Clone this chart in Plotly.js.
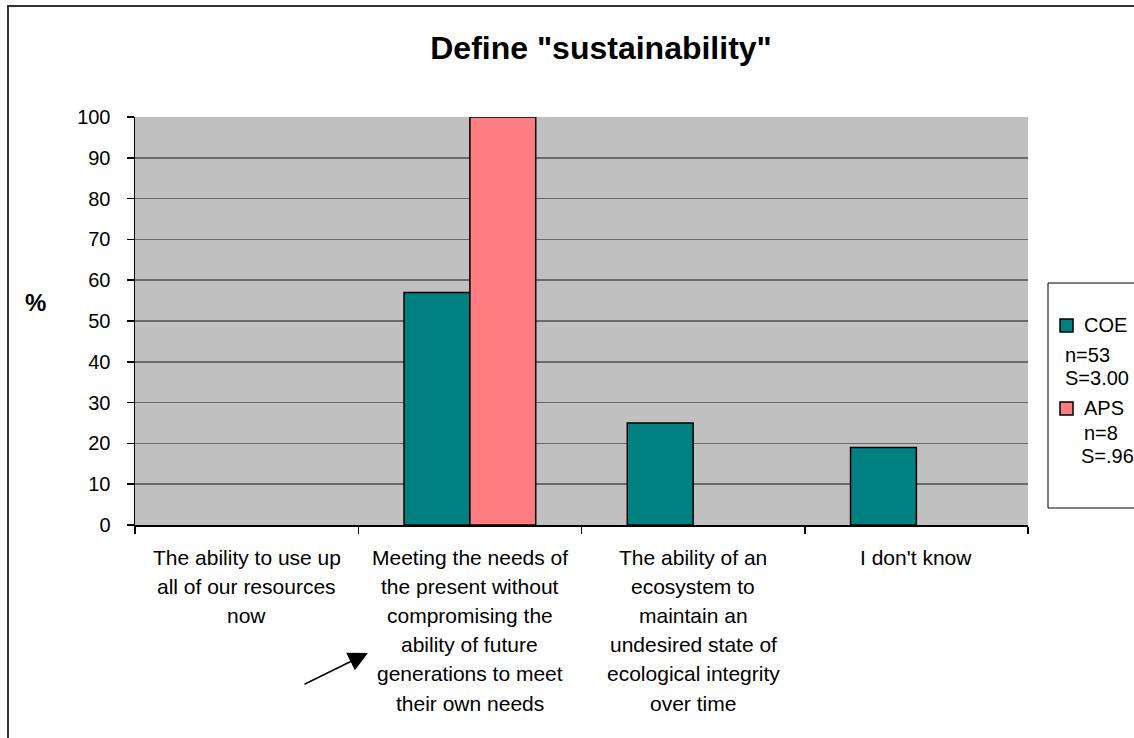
<!DOCTYPE html>
<html>
<head>
<meta charset="utf-8">
<script src="https://cdn.plot.ly/plotly-3.0.1.min.js"></script>
<style>
  html, body { margin: 0; padding: 0; background: #fff; }
  #chart { width: 1134px; height: 738px; }
</style>
</head>
<body>
<div id="chart"></div>
<script>
// ---- data ----
const categories = [
  "The ability to use up all of our resources now",
  "Meeting the needs of the present without compromising the ability of future generations to meet their own needs",
  "The ability of an ecosystem to maintain an undesired state of ecological integrity over time",
  "I don't know"
];
const categoryLines = [
  ["The ability to use up", "all of our resources", "now"],
  ["Meeting the needs of", "the present without", "compromising the", "ability of future", "generations to meet", "their own needs"],
  ["The ability of an", "ecosystem to", "maintain an", "undesired state of", "ecological integrity", "over time"],
  ["I don't know"]
];
const seriesNames = ["COE", "APS"];
const seriesN = ["n=53", "n=8"];
const seriesS = ["S=3.00", "S=.96"];
const coeValues = [0, 57, 25, 19];
const apsValues = [0, 100, 0, 0];
const yTicks = [0, 10, 20, 30, 40, 50, 60, 70, 80, 90, 100];
const titleText = 'Define "sustainability"';
const yTitle = "%";

// ---- layout helpers ----
const W = 1134, H = 738;
const M = { l: 135, r: 106, t: 117, b: 213 };
const PW = W - M.l - M.r, PH = H - M.t - M.b;
const px = x => (x - M.l) / PW;
const py = y => (H - M.b - y) / PH;

const colors = ["#008080", "#FF7C80"];
const font = "Arial, 'Liberation Sans', sans-serif";

// zero-valued bars are not drawn (as in the original chart)
const traces = [coeValues, apsValues].map((vals, i) => ({
  type: "bar",
  name: seriesNames[i],
  x: categories,
  y: vals.map(v => (v === 0 ? null : v)),
  marker: { color: colors[i], line: { color: "#000", width: 1.5 } },
  hoverinfo: "y"
}));

const annotations = [];
categoryLines.forEach((lines, ci) => {
  lines.forEach((ln, li) => {
    annotations.push({
      xref: "x", yref: "paper", x: categories[ci], y: py(557 + 29.2 * li),
      text: ln, showarrow: false, xanchor: "center", yanchor: "middle",
      font: { family: font, size: 21, color: "#000" }
    });
  });
});
annotations.push({
  xref: "paper", yref: "paper", x: px(35), y: py(302), text: "<b>" + yTitle + "</b>",
  showarrow: false, xanchor: "center", yanchor: "middle",
  font: { family: font, size: 24, color: "#000" }
});
// arrow
annotations.push({
  xref: "paper", yref: "paper", x: px(368), y: py(653), text: "",
  showarrow: true, arrowhead: 2, arrowsize: 2.6, arrowwidth: 1.5, arrowcolor: "#000",
  ax: -65, ay: 32
});
// legend texts
const legRows = [
  { t: seriesNames[0], x: 1082, y: 325 },
  { t: seriesN[0], x: 1063, y: 355 },
  { t: seriesS[0], x: 1063, y: 378 },
  { t: seriesNames[1], x: 1082, y: 408 },
  { t: seriesN[1], x: 1082, y: 433 },
  { t: seriesS[1], x: 1079, y: 456 }
];
legRows.forEach(r => annotations.push({
  xref: "paper", yref: "paper", x: px(r.x), y: py(r.y), text: r.t,
  showarrow: false, xanchor: "left", yanchor: "middle",
  font: { family: font, size: 20, color: "#000" }
}));

const shapes = [
  // outer frame
  { type: "rect", xref: "paper", yref: "paper", x0: px(8), x1: px(1145), y0: py(6), y1: py(750),
    line: { color: "#333", width: 2 }, fillcolor: "rgba(0,0,0,0)", layer: "below" },
  // legend box
  { type: "rect", xref: "paper", yref: "paper", x0: px(1048), x1: px(1145), y0: py(283), y1: py(508),
    line: { color: "#000", width: 1 }, fillcolor: "#fff" },
  // legend swatches
  { type: "rect", xref: "paper", yref: "paper", x0: px(1060), x1: px(1073), y0: py(319), y1: py(332),
    line: { color: "#000", width: 1.5 }, fillcolor: colors[0] },
  { type: "rect", xref: "paper", yref: "paper", x0: px(1060), x1: px(1073), y0: py(402), y1: py(415),
    line: { color: "#000", width: 1.5 }, fillcolor: colors[1] }
];

const layout = {
  width: W, height: H,
  margin: M,
  paper_bgcolor: "#fff",
  plot_bgcolor: "#C0C0C0",
  showlegend: false,
  barmode: "group",
  bargap: 0.41,
  bargroupgap: 0,
  title: {
    text: "<b>" + titleText + "</b>",
    xref: "container", yref: "container",
    x: 601 / W, y: 1 - 48 / H, xanchor: "center", yanchor: "middle",
    font: { family: font, size: 32, color: "#000" }
  },
  xaxis: {
    type: "category",
    range: [-0.5, 3.5],
    showline: true, linecolor: "#000", linewidth: 1.5,
    ticks: "outside", tickson: "boundaries", ticklen: 7, tickcolor: "#000", tickwidth: 1.5,
    showticklabels: false, showgrid: false, zeroline: false, fixedrange: true
  },
  yaxis: {
    range: [0, 100],
    tickvals: yTicks,
    ticktext: yTicks.map(String),
    showline: true, linecolor: "#000", linewidth: 1.5,
    ticks: "outside", ticklen: 7, tickcolor: "#000", tickwidth: 1.5,
    ticklabelstandoff: 12,
    tickfont: { family: font, size: 20, color: "#000" },
    showgrid: true, gridcolor: "#6a6a6a", gridwidth: 1.5,
    zeroline: false, fixedrange: true
  },
  annotations: annotations,
  shapes: shapes
};

Plotly.newPlot("chart", traces, layout, { displayModeBar: false, staticPlot: true });
</script>
</body>
</html>
